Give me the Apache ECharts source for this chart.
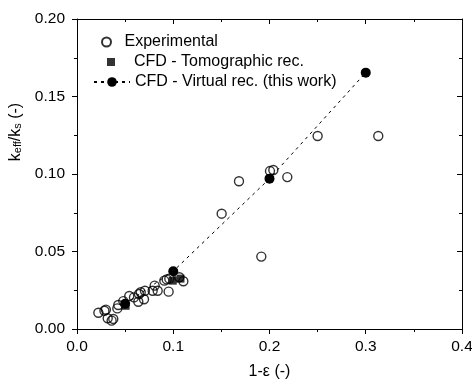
<!DOCTYPE html>
<html><head><meta charset="utf-8">
<script src="https://cdn.jsdelivr.net/npm/echarts@6/dist/echarts.min.js"></script>
<style>html,body{margin:0;padding:0;background:#fff}#c{width:472px;height:383px}</style>
</head><body><div id="c"></div>
<script>
// ---- data ----
const experimental = [
  [0.0222,0.0105],[0.0285,0.0118],[0.0300,0.0125],[0.0319,0.0069],[0.0360,0.0054],
  [0.0377,0.0065],[0.0419,0.0133],[0.0429,0.0155],[0.0481,0.0180],[0.0543,0.0213],
  [0.0592,0.0204],[0.0637,0.0176],[0.0644,0.0226],[0.0662,0.0237],[0.0696,0.0192],
  [0.0706,0.0247],[0.0786,0.0247],[0.0807,0.0280],[0.0838,0.0247],[0.0952,0.0241],
  [0.0907,0.0312],[0.0932,0.0320],[0.0959,0.0325],[0.1063,0.0334],[0.1105,0.0308],
  [0.1503,0.0744],[0.1683,0.0953],[0.1915,0.0467],[0.2005,0.1019],[0.2040,0.1026],
  [0.2185,0.0980],[0.2500,0.1245],[0.3130,0.1245]
];
const tomographic = [[0.0505,0.0150],[0.0995,0.0312],[0.1075,0.0325]];
const virtualRec = [[0.05,0.0163],[0.10,0.0373],[0.20,0.0970],[0.30,0.1654]];
const seriesNames = ['Experimental','CFD - Tomographic rec.','CFD - Virtual rec. (this work)'];
const xRange = [0, 0.4], xStep = 0.1;
const yRange = [0, 0.20], yStep = 0.05;

const FONT = 'Liberation Sans, Arial, sans-serif';
const chart = echarts.init(document.getElementById('c'));
const axisLine = {show:true, onZero:false, lineStyle:{color:'#000', width:1}};
function xAx(pos){
  const main = pos === 'bottom';
  return {type:'value', position:pos, min:xRange[0], max:xRange[1], interval:xStep,
    axisLine, splitLine:{show:false},
    axisTick:{show:true, inside:!main, length:5, lineStyle:{color:'#000'}},
    minorTick:{show:true, splitNumber:2, length:3, lineStyle:{color:'#000'}},
    axisLabel:{show:main, margin:10, color:'#000', fontSize:15.5, fontFamily:FONT,
      formatter:v=>v.toFixed(1)},
    name: main ? '1-ε (-)' : '', nameLocation:'middle', nameGap:35,
    nameTextStyle:{color:'#000', fontSize:16, fontFamily:FONT}};
}
function yAx(pos){
  const main = pos === 'left';
  return {type:'value', position:pos, min:yRange[0], max:yRange[1], interval:yStep,
    axisLine, splitLine:{show:false},
    axisTick:{show:true, inside:!main, length:5, lineStyle:{color:'#000'}},
    minorTick:{show:true, splitNumber:2, length:3, lineStyle:{color:'#000'}},
    axisLabel:{show:main, margin:12, color:'#000', fontSize:15.5, fontFamily:FONT,
      formatter:v=>v.toFixed(2)},
    name: main ? '{n|k}{s|eff}{n|/k}{s|s}{n| (-)}' : '', nameLocation:'middle', nameGap:46,
    nameTextStyle:{color:'#000', fontFamily:FONT, padding:[0,0,0,84],
      rich:{n:{fontSize:16, fontFamily:FONT, color:'#000', lineHeight:16, verticalAlign:'top'},
            s:{fontSize:11, fontFamily:FONT, color:'#000', lineHeight:11, padding:[7,0,0,0], verticalAlign:'bottom'}}}};
}
const legendText = {color:'#000', fontSize:16, fontFamily:FONT};
// square icon centred in a 36x8 legend slot (extra move-to points only widen the box)
const squareIcon = 'path://M0,0L0,0M36,8L36,8M14,0L22,0L22,8L14,8Z';
chart.setOption({
  animation:false,
  backgroundColor:'#fff',
  grid:{left:77, right:10, top:19, bottom:54, containLabel:false, outerBoundsMode:'none'},
  xAxis:[xAx('bottom'), xAx('top')],
  yAxis:[yAx('left'), yAx('right')],
  legend:[
    {data:[seriesNames[0]], left:96, top:29, itemWidth:26, itemHeight:9, textStyle:legendText, selectedMode:false},
    {data:[{name:seriesNames[1], icon:squareIcon}], left:88, top:49, itemWidth:36, itemHeight:8, textStyle:legendText, selectedMode:false},
    {data:[seriesNames[2]], left:88, top:69, itemWidth:36, itemHeight:12, textStyle:legendText, selectedMode:false}
  ],
  series:[
    {name:seriesNames[0], type:'scatter', data:experimental, symbol:'circle', symbolSize:9,
      itemStyle:{color:'rgba(255,255,255,0)', borderColor:'#000', borderWidth:1.4}, z:2},
    {name:seriesNames[1], type:'scatter', data:tomographic, symbol:'rect', symbolSize:8,
      itemStyle:{color:'#000'}, z:3},
    {name:seriesNames[2], type:'line', data:virtualRec, symbol:'circle', symbolSize:10,
      showSymbol:true, lineStyle:{color:'#000', width:1, type:[3,4]},
      itemStyle:{color:'#000', borderColor:'#000', borderWidth:0}, z:4}
  ]
});
</script></body></html>
